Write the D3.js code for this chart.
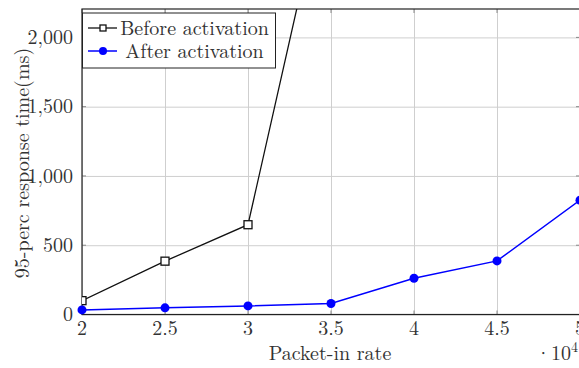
<!DOCTYPE html>
<html>
<head>
<meta charset="utf-8">
<script src="https://cdn.jsdelivr.net/npm/d3@7"></script>
<style>
  body { margin: 0; background: white; }
</style>
</head>
<body>
<script>
  // packet-in rate (x 10^4)
  let rates = [2, 2.5, 3, 3.5, 4, 4.5, 5];
  // 95-perc response time, ms
  let beforeRates = [2, 2.5, 3, 3.5];
  let beforeVals = [100, 385, 648, 3300];
  let afterVals = [33, 48, 62, 79, 262, 387, 825];

  let xTicks = [2, 2.5, 3, 3.5, 4, 4.5, 5];
  let yTicks = [0, 500, 1000, 1500, 2000];

  let font = 'Latin Modern Roman, Liberation Serif, serif';
  let txtCol = '#333';

  let svg = d3.select('body').append('svg')
    .attr('width', 579)
    .attr('height', 368)
    .attr('font-family', font);

  let pLeft = 82, pRight = 580, pTop = 9, pBottom = 314.5;

  let x = d3.scaleLinear().domain([2, 5]).range([pLeft, pRight]);
  let y = d3.scaleLinear().domain([0, 2205]).range([pBottom, pTop]);

  svg.append('clipPath').attr('id', 'clip')
    .append('rect')
    .attr('x', pLeft).attr('y', pTop)
    .attr('width', pRight - pLeft).attr('height', pBottom - pTop);

  // grid
  svg.append('g')
    .attr('transform', `translate(0, ${pBottom})`)
    .call(d3.axisBottom(x).tickValues(xTicks).tickSize(-(pBottom - pTop)).tickFormat(''))
    .call(g => g.select('.domain').remove())
    .selectAll('line').attr('stroke', '#cfcfcf').attr('stroke-width', 1);

  svg.append('g')
    .attr('transform', `translate(${pLeft}, 0)`)
    .call(d3.axisLeft(y).tickValues(yTicks).tickSize(-(pRight - pLeft)).tickFormat(''))
    .call(g => g.select('.domain').remove())
    .selectAll('line').attr('stroke', '#cfcfcf').attr('stroke-width', 1);

  // small inner ticks on all four sides
  let tickCol = '#888';
  xTicks.forEach(v => {
    svg.append('line').attr('x1', x(v)).attr('x2', x(v)).attr('y1', pBottom).attr('y2', pBottom - 4).attr('stroke', tickCol);
    svg.append('line').attr('x1', x(v)).attr('x2', x(v)).attr('y1', pTop).attr('y2', pTop + 4).attr('stroke', tickCol);
  });
  yTicks.forEach(v => {
    svg.append('line').attr('x1', pLeft).attr('x2', pLeft + 4).attr('y1', y(v)).attr('y2', y(v)).attr('stroke', tickCol);
    svg.append('line').attr('x1', pRight).attr('x2', pRight - 4).attr('y1', y(v)).attr('y2', y(v)).attr('stroke', tickCol);
  });

  // frame
  svg.append('rect')
    .attr('x', pLeft).attr('y', pTop)
    .attr('width', pRight - pLeft).attr('height', pBottom - pTop)
    .attr('fill', 'none').attr('stroke', '#222').attr('stroke-width', 1.2);

  // tick labels
  let fmt = d3.format(',');
  svg.selectAll('.ylab').data(yTicks).enter().append('text')
    .attr('x', pLeft - 9)
    .attr('y', d => y(d))
    .attr('dy', '0.33em')
    .attr('text-anchor', 'end')
    .attr('font-size', 20)
    .attr('fill', txtCol)
    .text(d => fmt(d));

  svg.selectAll('.xlab').data(xTicks).enter().append('text')
    .attr('x', d => x(d))
    .attr('y', 335)
    .attr('text-anchor', 'middle')
    .attr('font-size', 20)
    .attr('fill', txtCol)
    .text(d => d);

  svg.append('text')
    .attr('x', 330).attr('y', 360)
    .attr('text-anchor', 'middle')
    .attr('font-size', 20)
    .attr('fill', txtCol)
    .text('Packet-in rate');

  // exponent label, tucked under the right end of the axis
  let sci = svg.append('text')
    .attr('x', 578).attr('y', 360)
    .attr('text-anchor', 'end')
    .attr('font-size', 20)
    .attr('fill', txtCol);
  sci.append('tspan').text('·10');
  sci.append('tspan').attr('dy', -8).attr('font-size', 14).text('4');

  svg.append('text')
    .attr('transform', 'translate(29, 163) rotate(-90)')
    .attr('text-anchor', 'middle')
    .attr('font-size', 20)
    .attr('fill', txtCol)
    .text('95-perc response time(ms)');

  // data lines
  let plot = svg.append('g').attr('clip-path', 'url(#clip)');
  let line = d3.line().x(d => x(d[0])).y(d => y(d[1]));

  let before = beforeRates.map((r, i) => [r, beforeVals[i]]);
  let after = rates.map((r, i) => [r, afterVals[i]]);

  plot.append('path').datum(before)
    .attr('d', line).attr('fill', 'none')
    .attr('stroke', '#111').attr('stroke-width', 1.3);

  plot.append('path').datum(after)
    .attr('d', line).attr('fill', 'none')
    .attr('stroke', '#0000ff').attr('stroke-width', 1.5);

  plot.selectAll('.sq').data(before).enter().append('rect')
    .attr('x', d => x(d[0]) - 4)
    .attr('y', d => y(d[1]) - 4)
    .attr('width', 8).attr('height', 8)
    .attr('fill', 'white').attr('stroke', '#111').attr('stroke-width', 1.3);

  svg.selectAll('.dot').data(after).enter().append('circle')
    .attr('cx', d => x(d[0]))
    .attr('cy', d => y(d[1]))
    .attr('r', 4.5)
    .attr('fill', '#0000ff');

  // legend
  let lg = svg.append('g');
  lg.append('rect')
    .attr('x', 82.5).attr('y', 13)
    .attr('width', 193).attr('height', 55)
    .attr('fill', 'white').attr('stroke', '#222').attr('stroke-width', 1);

  lg.append('line').attr('x1', 88).attr('x2', 117).attr('y1', 28).attr('y2', 28)
    .attr('stroke', '#111').attr('stroke-width', 1.3);
  lg.append('rect').attr('x', 100).attr('y', 25).attr('width', 6).attr('height', 6)
    .attr('fill', 'white').attr('stroke', '#111').attr('stroke-width', 1.3);
  lg.append('text').attr('x', 194.5).attr('y', 34.5).attr('text-anchor', 'middle')
    .attr('font-size', 20).attr('fill', txtCol).text('Before activation');

  lg.append('line').attr('x1', 88).attr('x2', 117).attr('y1', 51).attr('y2', 51)
    .attr('stroke', '#0000ff').attr('stroke-width', 1.5);
  lg.append('circle').attr('cx', 103).attr('cy', 51).attr('r', 4).attr('fill', '#0000ff');
  lg.append('text').attr('x', 194.5).attr('y', 57.5).attr('text-anchor', 'middle')
    .attr('font-size', 20).attr('fill', txtCol).text('After activation');
</script>
</body>
</html>
